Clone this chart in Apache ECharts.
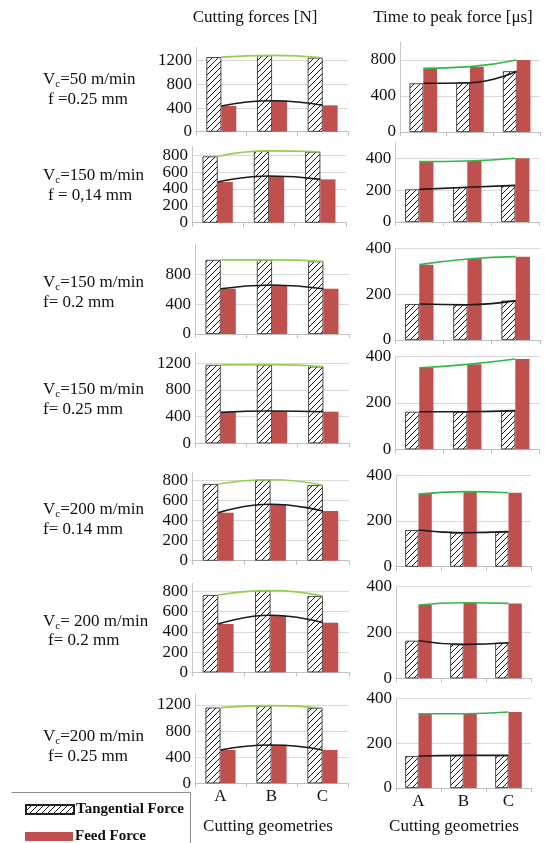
<!DOCTYPE html>
<html><head><meta charset="utf-8">
<script src="https://cdn.jsdelivr.net/npm/echarts@6/dist/echarts.min.js"></script>
<style>html,body{margin:0;padding:0;background:#fff}#c{width:545px;height:843px}</style>
</head><body><div id="c"></div>
<script>
// ---------- data ----------
const categories = ['A', 'B', 'C'];
const conditionVc = ['=50 m/min', '=150 m/min', '=150 m/min', '=150 m/min', '=200 m/min', '= 200 m/min', '=200 m/min'];
const conditionF = ['f =0.25 mm', 'f = 0,14 mm', 'f= 0.2 mm', 'f= 0.25 mm', 'f= 0.14 mm', 'f= 0.2 mm', 'f= 0.25 mm'];
const tangentialForce = [
  [1260, 1290, 1250],
  [785, 850, 840],
  [995, 995, 975],
  [1175, 1180, 1150],
  [767, 810, 755],
  [765, 808, 755],
  [1160, 1190, 1155]
];
const feedForce = [
  [434, 524, 446],
  [482, 553, 513],
  [608, 658, 608],
  [464, 484, 474],
  [480, 564, 497],
  [478, 564, 491],
  [510, 587, 510]
];
const timeTangential = [
  [541, 548, 675],
  [205, 218, 230],
  [157, 154, 172],
  [162, 162, 167],
  [160, 148, 153],
  [164, 148, 155],
  [143, 146, 146]
];
const timeFeed = [
  [707, 726, 800],
  [379, 383, 400],
  [329, 354, 364],
  [352, 367, 390],
  [317, 328, 323],
  [320, 330, 327],
  [332, 332, 340]
];
const forceMax = [1430, 900, 1200, 1370, 880, 880, 1370];
const forceInterval = [400, 200, 400, 400, 200, 200, 400];
const timeMax = [1000, 500, 400, 400, 400, 400, 400];
const timeInterval = [400, 200, 200, 200, 200, 200, 200];
const titleLeft = 'Cutting forces [N]';
const titleRight = 'Time to peak force [\u03bcs]';
const xTitle = 'Cutting geometries';
const seriesNames = ['Tangential Force', 'Feed Force'];

// ---------- layout ----------
const leftGrids = [
  {left: 196, width: 152, top: 47.1, height: 84.6},
  {left: 192, width: 154, top: 146.7, height: 76},
  {left: 195, width: 154, top: 244.6, height: 89.4},
  {left: 195, width: 154, top: 351.9, height: 91.4},
  {left: 192, width: 157, top: 472.7, height: 88},
  {left: 192, width: 157, top: 583.4, height: 88.9},
  {left: 195, width: 153, top: 693.9, height: 89.4}
];
const rightGrids = [
  {left: 400, width: 140, top: 42, height: 90},
  {left: 395.3, width: 144, top: 142.4, height: 79.6},
  {left: 395.2, width: 144.6, top: 248.4, height: 91.6},
  {left: 395.3, width: 144, top: 356.7, height: 92.6},
  {left: 396, width: 135, top: 475.1, height: 91.6},
  {left: 396, width: 135, top: 586.7, height: 91.6},
  {left: 396, width: 135, top: 698.6, height: 89.4}
];
const labelY = [[79.3, 99.3], [176, 195.5], [282.7, 302.7], [390, 410], [510, 529.5], [621.7, 640.5], [736.7, 756.7]];
const labelFX = [48, 48, 43, 43, 43, 48, 48];

const FONT = '"Liberation Serif", "Times New Roman", serif';
const RED = '#C0504D';

function makeHatch(color) {
  const s = 6;
  const c = document.createElement('canvas');
  c.width = s; c.height = s;
  const g = c.getContext('2d');
  g.fillStyle = '#fff'; g.fillRect(0, 0, s, s);
  g.strokeStyle = color; g.lineWidth = 1;
  g.beginPath();
  g.moveTo(0, s); g.lineTo(s, 0);
  g.moveTo(-1, 1); g.lineTo(1, -1);
  g.moveTo(s - 1, s + 1); g.lineTo(s + 1, s - 1);
  g.stroke();
  return c;
}
const hatch = {image: makeHatch('#1a1a1a'), repeat: 'repeat'};

const grid = [], xAxis = [], yAxis = [], series = [];

function addPanel(g, max, interval, hatchData, redData, isBottom, hideMax, upperIsRed) {
  const k = grid.length;
  grid.push(Object.assign({containLabel: false}, g));
  xAxis.push({
    type: 'category', gridIndex: k, data: categories,
    axisLine: {show: true, lineStyle: {color: '#BFBFBF', width: 1}},
    axisTick: {show: true, length: 4, lineStyle: {color: '#BFBFBF'}},
    axisLabel: {show: isBottom, fontFamily: FONT, fontSize: 17, color: '#111', margin: 5}
  });
  yAxis.push({
    type: 'value', gridIndex: k, min: 0, max: max, interval: interval,
    axisLine: {show: true, lineStyle: {color: '#C8C8C8', width: 1}},
    axisTick: {show: false},
    axisLabel: {fontFamily: FONT, fontSize: 17, color: '#111', margin: 4, showMaxLabel: !hideMax,
      formatter: function (v) { return String(v); }},
    splitLine: {show: true, showMaxLine: !hideMax, showMinLine: false, lineStyle: {color: '#D9D9D9', width: 1}}
  });
  series.push({
    type: 'bar', name: seriesNames[0], xAxisIndex: k, yAxisIndex: k, data: hatchData,
    barGap: '0%', barCategoryGap: '41%',
    itemStyle: {color: hatch, borderColor: '#222', borderWidth: 0.8}, z: 2
  });
  series.push({
    type: 'bar', name: seriesNames[1], xAxisIndex: k, yAxisIndex: k, data: redData,
    barGap: '0%', barCategoryGap: '41%',
    itemStyle: {color: RED}, z: 2
  });
  const upper = upperIsRed ? redData : hatchData;
  const lower = upperIsRed ? hatchData : redData;
  const greenCol = upperIsRed ? '#33B84A' : '#92D050';
  series.push({
    type: 'line', name: 'trend-upper', xAxisIndex: k, yAxisIndex: k, data: upper,
    smooth: 0.5, showSymbol: false, symbol: 'none', lineStyle: {color: greenCol, width: 1.6}, z: 5, silent: true
  });
  series.push({
    type: 'line', name: 'trend-lower', xAxisIndex: k, yAxisIndex: k, data: lower,
    smooth: 0.5, showSymbol: false, symbol: 'none', lineStyle: {color: '#1a1a1a', width: 1.6}, z: 5, silent: true
  });
}

for (let i = 0; i < 7; i++) {
  addPanel(leftGrids[i], forceMax[i], forceInterval[i], tangentialForce[i], feedForce[i], i === 6, true, false);
}
for (let i = 0; i < 7; i++) {
  addPanel(rightGrids[i], timeMax[i], timeInterval[i], timeTangential[i], timeFeed[i], i === 6, i < 2, true);
}

const graphic = [
  {type: 'text', x: 255, y: 18, style: {text: titleLeft, font: '17px ' + FONT, fill: '#111', align: 'center', verticalAlign: 'middle'}},
  {type: 'text', x: 453, y: 18, style: {text: titleRight, font: '17px ' + FONT, fill: '#111', align: 'center', verticalAlign: 'middle'}},
  {type: 'text', x: 268, y: 827, style: {text: xTitle, font: '17px ' + FONT, fill: '#111', align: 'center', verticalAlign: 'middle'}},
  {type: 'text', x: 454, y: 827, style: {text: xTitle, font: '17px ' + FONT, fill: '#111', align: 'center', verticalAlign: 'middle'}},
  {type: 'line', shape: {x1: 11.5, y1: 792.5, x2: 190.5, y2: 792.5}, style: {stroke: '#8C8C8C', lineWidth: 1}},
  {type: 'line', shape: {x1: 190.5, y1: 792.5, x2: 190.5, y2: 843}, style: {stroke: '#8C8C8C', lineWidth: 1}}
];
for (let i = 0; i < 7; i++) {
  graphic.push({
    type: 'text', x: 43, y: labelY[i][0],
    style: {
      text: '{v|V}{s|c}{v|' + conditionVc[i] + '}',
      verticalAlign: 'middle',
      rich: {
        v: {fontSize: 17, fontFamily: FONT, fill: '#111', lineHeight: 20},
        s: {fontSize: 11, fontFamily: FONT, fill: '#111', lineHeight: 8, verticalAlign: 'bottom'}
      }
    }
  });
  graphic.push({
    type: 'text', x: labelFX[i], y: labelY[i][1],
    style: {text: conditionF[i], font: '17px ' + FONT, fill: '#111', verticalAlign: 'middle'}
  });
}

const legendBase = {
  orient: 'vertical', left: 20, icon: 'rect', itemWidth: 48, itemHeight: 9,
  textStyle: {fontFamily: FONT, fontSize: 15, fontWeight: 'bold', color: '#111', padding: [0, 0, 0, -3]}
};

const chart = echarts.init(document.getElementById('c'), null, {renderer: 'canvas'});
chart.setOption({
  animation: false,
  backgroundColor: '#fff',
  grid, xAxis, yAxis, series, graphic,
  legend: [
    Object.assign({data: [seriesNames[0]], top: 797}, legendBase),
    Object.assign({data: [seriesNames[1]], top: 824}, legendBase)
  ]
});
</script>
</body></html>
